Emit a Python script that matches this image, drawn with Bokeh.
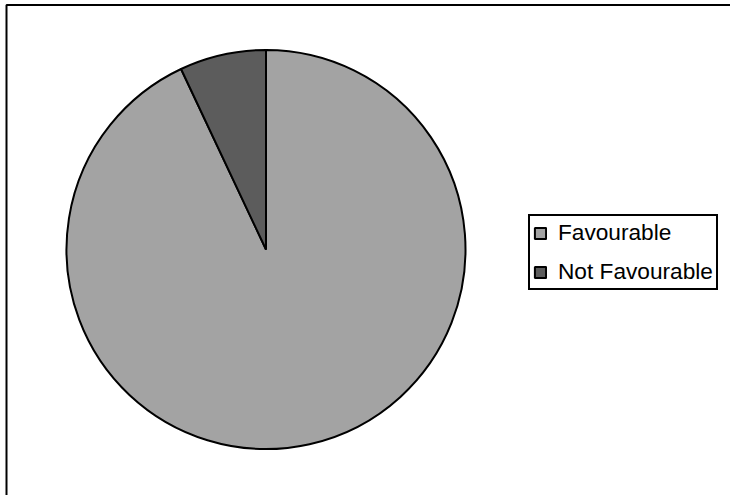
import math
from bokeh.plotting import figure
from bokeh.models import ColumnDataSource, Range1d, Legend, LegendItem
from bokeh.embed import file_html
from bokeh.resources import INLINE

categories = ["Favourable", "Not Favourable"]
values = [93, 7]
colors = ["#A3A3A3", "#5C5C5C"]

W, H = 730, 495
total = float(sum(values))
starts, ends = [], []
acc = 0.0
for v in values:
    starts.append(math.pi / 2 - 2 * math.pi * acc / total)
    acc += v
    ends.append(math.pi / 2 - 2 * math.pi * acc / total)

src = ColumnDataSource(dict(start=starts, end=ends, color=colors, label=categories))

p = figure(width=W, height=H, output_backend="svg", toolbar_location=None,
           x_range=Range1d(0, W), y_range=Range1d(0, H),
           min_border=0, min_border_left=0, min_border_right=0,
           min_border_top=0, min_border_bottom=0)
p.axis.visible = False
p.grid.visible = False
p.outline_line_color = None
p.background_fill_color = "white"
p.border_fill_color = "white"

# chart area border (top and left edges visible in the window)
p.line(x=[6, 6, W + 20], y=[-20, H - 4.5, H - 4.5], line_color="black", line_width=2)

r = p.wedge(x=265.5, y=H - 249, radius=199.5, start_angle="start", end_angle="end",
            direction="clock", fill_color="color", line_color="black", line_width=2,
            source=src)

items = [LegendItem(label=categories[i], renderers=[r], index=i) for i in range(len(categories))]
legend = Legend(items=items, location=(528, H - 290), orientation="vertical",
                label_text_font="Liberation Sans", label_text_font_size="17pt",
                label_text_color="black", label_standoff=11,
                glyph_width=14, glyph_height=14, spacing=12, padding=3,
                border_line_color="black", border_line_width=2, border_line_alpha=1.0,
                background_fill_color="white", background_fill_alpha=1.0,
                margin=0)
p.add_layout(legend, "center")

open("out.html", "w").write(file_html(p, INLINE))
